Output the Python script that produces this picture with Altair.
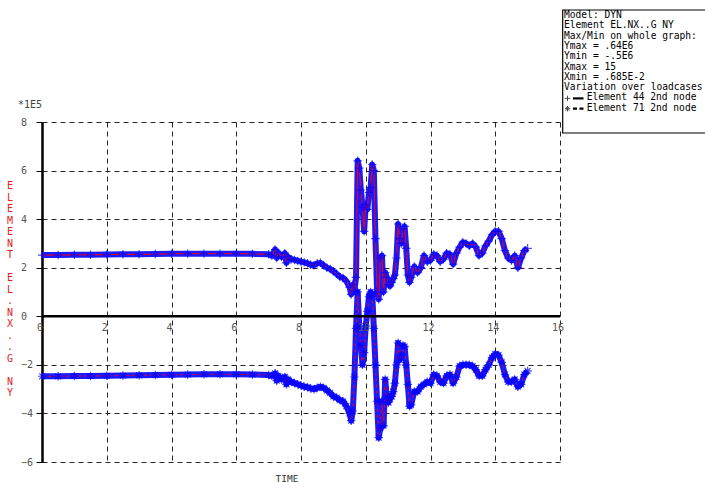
import altair as alt
import pandas as pd

# ---- data (values in units of 1E5) ----
time = [0.00685, 0.5, 1.0, 1.5, 2.0, 2.5, 3.0, 3.5, 4.0, 4.5, 5.0, 5.5, 6.0, 6.5, 7.0,
        7.1, 7.2, 7.25, 7.3, 7.4, 7.5, 7.55, 7.6, 7.7, 7.8, 7.9,
        8.0, 8.1, 8.2, 8.3, 8.4, 8.5, 8.6, 8.7, 8.8, 8.9, 9.0, 9.1, 9.2, 9.3, 9.4,
        9.5, 9.55, 9.6, 9.65, 9.7, 9.75, 9.8, 9.85, 9.9, 9.95,
        10.0, 10.05, 10.1, 10.15, 10.2, 10.25, 10.3, 10.35, 10.4, 10.45,
        10.5, 10.55, 10.6, 10.65, 10.7, 10.75, 10.8, 10.85, 10.9, 10.95,
        11.0, 11.05, 11.1, 11.15, 11.2, 11.25, 11.3, 11.35, 11.4,
        11.5, 11.6, 11.7, 11.8, 11.9, 12.0, 12.1, 12.2, 12.3, 12.4,
        12.5, 12.6, 12.7, 12.8, 12.9, 13.0, 13.1, 13.2, 13.3, 13.4,
        13.5, 13.6, 13.7, 13.8, 13.9, 14.0, 14.1, 14.2, 14.3, 14.4,
        14.5, 14.6, 14.7, 14.8, 14.9, 15.0]

elem44 = [2.52, 2.52, 2.53, 2.53, 2.54, 2.55, 2.55, 2.56, 2.57, 2.58, 2.58, 2.58, 2.58, 2.57, 2.55,
          2.50, 2.75, 2.40, 2.62, 2.45, 2.60, 2.20, 2.45, 2.35, 2.32, 2.28,
          2.25, 2.22, 2.18, 2.12, 2.10, 2.18, 2.20, 2.10, 2.00, 1.95, 1.85, 1.75, 1.62, 1.58, 1.45,
          1.20, 0.90, 1.30, 1.05, 1.60, 6.40, 6.10, 5.20, 4.50, 3.50,
          4.60, 4.40, 5.10, 5.30, 6.25, 6.00, 3.20, 1.00, 0.70, 2.40,
          2.50, 1.00, 1.80, 1.60, 1.30, 1.25, 1.40, 1.55, 1.70, 2.40,
          3.80, 3.20, 3.00, 3.60, 3.70, 2.80, 1.70, 1.40, 1.60,
          2.05, 1.80, 2.00, 2.50, 2.25, 2.30, 2.55, 2.50, 2.25, 2.35,
          2.60, 2.55, 2.15, 2.60, 2.85, 3.05, 3.00, 2.90, 3.00, 2.85,
          2.50, 2.60, 2.90, 3.10, 3.35, 3.50, 3.50, 3.20, 2.70, 2.40,
          2.30, 2.50, 2.00, 2.40, 2.70, 2.80]

elem71 = [-2.47, -2.47, -2.46, -2.46, -2.45, -2.44, -2.43, -2.42, -2.41, -2.40, -2.39, -2.39, -2.39, -2.40, -2.42,
          -2.45, -2.35, -2.65, -2.45, -2.60, -2.50, -2.80, -2.60, -2.70, -2.75, -2.80,
          -2.85, -2.90, -2.92, -2.97, -3.00, -2.95, -2.90, -2.95, -3.05, -3.15, -3.30, -3.35, -3.45, -3.50, -3.70,
          -4.00, -4.30, -3.90, -2.50, -0.50, 1.00, -0.40, -1.20, -2.00, -1.50,
          -0.40, 0.20, 0.80, 1.00, 0.90, -0.50, -2.00, -3.50, -5.00, -4.60,
          -3.50, -4.50, -2.60, -3.30, -3.55, -3.40, -3.30, -3.10, -2.75, -2.00,
          -1.10, -1.80, -1.60, -1.20, -1.25, -2.00, -2.80, -3.70, -3.65,
          -3.10, -3.10, -2.90, -2.80, -2.70, -2.75, -2.40, -2.45, -2.70, -2.75,
          -2.45, -2.40, -2.75, -2.50, -2.05, -2.00, -2.00, -2.00, -2.05, -2.20,
          -2.45, -2.45, -2.20, -2.00, -1.70, -1.55, -1.60, -1.90, -2.40, -2.70,
          -2.70, -2.60, -2.90, -2.80, -2.40, -2.25]

x_ticks = [0, 2, 4, 6, 8, 10, 12, 14, 16]
y_ticks = [-6, -4, -2, 0, 2, 4, 6, 8]

legend_lines = ["Model: DYN", "Element EL.NX..G NY", "Max/Min on whole graph:",
                "Ymax = .64E6", "Ymin = -.5E6", "Xmax = 15", "Xmin = .685E-2",
                "Variation over loadcases"]
series_labels = ["Element 44 2nd node", "Element 71 2nd node"]
y_title_words = ["ELEMENT", "EL.NX..G", "NY"]

# ---- build tables ----
df44 = pd.DataFrame({"t": time, "v": elem44})
df71 = pd.DataFrame({"t": time, "v": elem71})
dticks = pd.DataFrame({"t": x_ticks, "y": [0] * len(x_ticks), "lab": [str(v) for v in x_ticks]})
one = alt.Data(values=[{}])

MONO = "DejaVu Sans Mono"
PLUS = "M-1,0L1,0M0,-1L0,1"
STAR = "M-1,0L1,0M0,-1L0,1M-0.7,-0.7L0.7,0.7M-0.7,0.7L0.7,-0.7"

xs = alt.Scale(domain=[0, 16], nice=False, zero=False)
ys = alt.Scale(domain=[-6, 8], nice=False, zero=False)

X = alt.X("t:Q", scale=xs, axis=alt.Axis(values=x_ticks[1:], grid=True, gridDash=[5, 4],
                                          gridColor="black", gridOpacity=0.85, labels=False,
                                          ticks=False, domain=False, title=None))
Y = alt.Y("v:Q", scale=ys, axis=alt.Axis(values=y_ticks, grid=True, gridDash=[5, 4],
                                          gridColor="black", gridOpacity=0.85,
                                          domainColor="black", domainWidth=2.5,
                                          tickColor="black", tickSize=6, labelAlign="left",
                                          labelPadding=15.5, labelFont=MONO, labelFontSize=10,
                                          labelColor="#555", labelFlush=False, title=None))

base44 = alt.Chart(df44)
base71 = alt.Chart(df71)

band44 = base44.mark_line(color="#1a1aff", strokeWidth=6, strokeJoin="round").encode(x=X, y=Y)
band71 = base71.mark_line(color="#1a1aff", strokeWidth=6, strokeJoin="round").encode(x="t:Q", y="v:Q")
pts44 = base44.mark_point(shape=PLUS, filled=False, color="#0000ff", strokeWidth=1.2, size=72).encode(x="t:Q", y="v:Q")
pts71 = base71.mark_point(shape=STAR, filled=False, color="#0000ff", strokeWidth=1.2, size=72).encode(x="t:Q", y="v:Q")
line44 = base44.mark_line(color="#ff0000", strokeWidth=1).encode(x="t:Q", y="v:Q")
line71 = base71.mark_line(color="#ff0000", strokeWidth=1, strokeDash=[3, 3]).encode(x="t:Q", y="v:Q")

zero_rule = alt.Chart(one).mark_rule(color="black", strokeWidth=2.5).encode(y=alt.datum(0))

xlabels = alt.Chart(dticks).mark_text(font=MONO, fontSize=10, color="#555", dx=-2, dy=12,
                                      baseline="middle").encode(x="t:Q", y="y:Q", text="lab:N")

exp_txt = alt.Chart(one).mark_text(font=MONO, fontSize=10, color="#444", align="left",
                                   baseline="middle").encode(
    x=alt.value(-24), y=alt.value(-17), text=alt.value("*1E5"))

time_txt = alt.Chart(one).mark_text(font=MONO, fontSize=9.5, color="#333", align="center",
                                    baseline="middle").encode(
    x=alt.value(245), y=alt.value(356.5), text=alt.value("TIME"))

# vertical, letter-stacked y title (one text per word)
TLH = 11.5
ytitle_layers = []
start = 0
for w in y_title_words:
    ytitle_layers.append(
        alt.Chart(one).mark_text(font=MONO, fontSize=10, color="#e32222", align="center",
                                 baseline="top", lineBreak="|", lineHeight=TLH).encode(
            x=alt.value(-32), y=alt.value(59 + start * TLH), text=alt.value("|".join(w))))
    start += len(w) + 1

# legend box
LH = 10.3
leg_box = alt.Chart(one).mark_rect(fill="white", stroke="black", strokeWidth=1.2).encode(
    x=alt.value(520.7), x2=alt.value(680), y=alt.value(-112), y2=alt.value(11))
leg_txt = alt.Chart(one).mark_text(font=MONO, fontSize=9.6, color="black", align="left",
                                   baseline="middle", lineBreak="|", lineHeight=LH).encode(
    x=alt.value(522), y=alt.value(-107), text=alt.value("|".join(legend_lines)))
leg_s1 = alt.Chart(one).mark_text(font=MONO, fontSize=9.6, color="black", align="left",
                                  baseline="middle").encode(
    x=alt.value(544.7), y=alt.value(-107 + 8 * LH), text=alt.value(series_labels[0]))
leg_s2 = alt.Chart(one).mark_text(font=MONO, fontSize=9.6, color="black", align="left",
                                  baseline="middle").encode(
    x=alt.value(544.7), y=alt.value(-107 + 9 * LH), text=alt.value(series_labels[1]))
leg_p1 = alt.Chart(one).mark_point(shape=PLUS, filled=False, color="black", strokeWidth=1, size=30).encode(
    x=alt.value(525.5), y=alt.value(-107 + 8 * LH + 1))
leg_p2 = alt.Chart(one).mark_point(shape=STAR, filled=False, color="black", strokeWidth=1, size=30).encode(
    x=alt.value(525.5), y=alt.value(-107 + 9 * LH + 1))
leg_l1 = alt.Chart(one).mark_rule(color="black", strokeWidth=2.2).encode(
    x=alt.value(531), x2=alt.value(541.5), y=alt.value(-107 + 8 * LH + 1))
leg_l2 = alt.Chart(one).mark_rule(color="black", strokeWidth=2.2, strokeDash=[4, 2.5]).encode(
    x=alt.value(531), x2=alt.value(541.5), y=alt.value(-107 + 9 * LH + 1))

chart = alt.layer(
    band44, band71, line44, line71, pts44, pts71, zero_rule, xlabels,
    exp_txt, time_txt, *ytitle_layers,
    leg_box, leg_txt, leg_s1, leg_s2, leg_p1, leg_p2, leg_l1, leg_l2
).properties(
    width=518, height=340,
    autosize=alt.AutoSizeParams(type="none"),
    padding={"left": 42, "top": 122, "right": 145, "bottom": 21},
    background="white",
).configure_view(stroke=None)

chart.save("out.html", embed_options={"renderer": "svg", "actions": False})
